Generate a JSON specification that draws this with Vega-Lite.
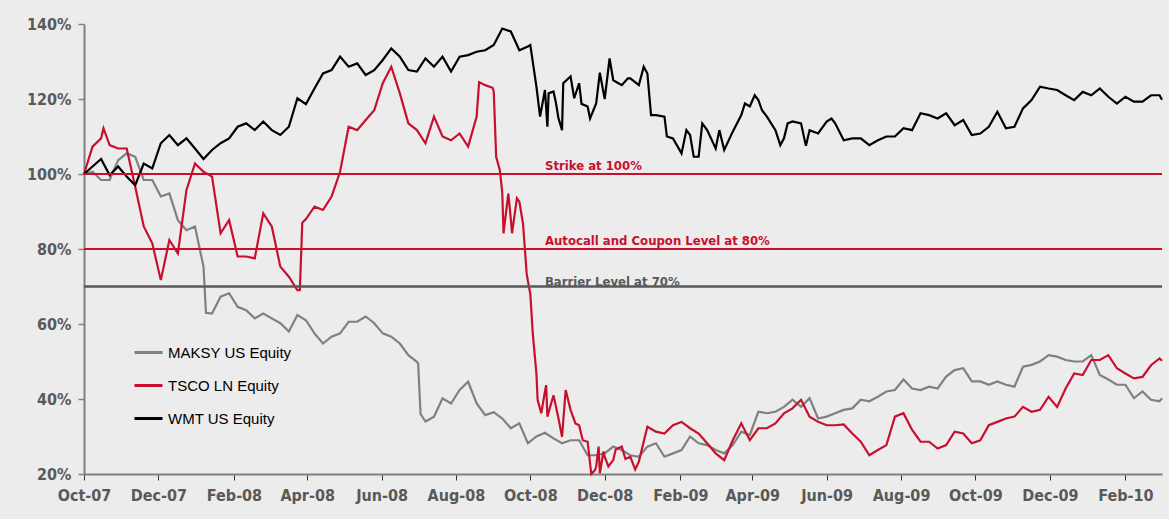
{
  "$schema": "https://vega.github.io/schema/vega-lite/v6.json",
  "width": 1078,
  "height": 450,
  "autosize": {"type": "none"},
  "padding": {"left": 84, "top": 24, "right": 7, "bottom": 45},
  "background": "#ececec",
  "config": {"view": {"stroke": null}, "font": "DejaVu Sans Condensed", "mark": {"invalid": "filter"}},
  "datasets": {
    "series": [
      {"d":"2007-10-01","m":100,"t":100,"w":100},
      {"d":"2007-10-08","m":100.6,"t":107.3,"w":102},
      {"d":"2007-10-15","m":98.4,"t":109.5,"w":104},
      {"d":"2007-10-17","t":112.2},
      {"d":"2007-10-22","m":98.4,"t":107.7,"w":99.7},
      {"d":"2007-10-29","m":103.7,"t":106.8,"w":102},
      {"d":"2007-11-05","m":105.5,"t":106.8,"w":99.3},
      {"d":"2007-11-12","m":104.6,"t":96.6,"w":97},
      {"d":"2007-11-19","m":98.4,"t":86,"w":102.8},
      {"d":"2007-11-26","m":98.4,"t":81.5,"w":101.5},
      {"d":"2007-12-03","m":94,"t":71.7,"w":108.2},
      {"d":"2007-12-10","m":94.8,"t":82.4,"w":110.4},
      {"d":"2007-12-17","m":87.7,"t":78.8,"w":107.7},
      {"d":"2007-12-24","m":85,"t":95.7,"w":109.5},
      {"d":"2007-12-31","m":86,"t":102.8,"w":106.8},
      {"d":"2008-01-07","m":75.3,"t":100.6,"w":104},
      {"d":"2008-01-09","m":63},
      {"d":"2008-01-14","m":62.8,"t":99.3,"w":106.4},
      {"d":"2008-01-21","m":67.3,"t":84.2,"w":108.2},
      {"d":"2008-01-28","m":68.2,"t":87.7,"w":109.5},
      {"d":"2008-02-04","m":64.6,"t":78,"w":112.6},
      {"d":"2008-02-11","m":63.7,"t":78,"w":113.5},
      {"d":"2008-02-18","m":61.5,"t":77.5,"w":111.7},
      {"d":"2008-02-25","m":62.8,"t":89.5,"w":114},
      {"d":"2008-03-03","m":61.5,"t":86,"w":111.7},
      {"d":"2008-03-10","m":60.2,"t":75.3,"w":110.4},
      {"d":"2008-03-17","m":58,"t":72.6,"w":112.6},
      {"d":"2008-03-24","m":62.4,"t":69,"w":120.2},
      {"d":"2008-03-26","t":69},
      {"d":"2008-03-28","t":87},
      {"d":"2008-03-31","m":61,"t":88,"w":118.6},
      {"d":"2008-04-07","m":57.5,"t":91.3,"w":122.8},
      {"d":"2008-04-14","m":54.8,"t":90.4,"w":126.8},
      {"d":"2008-04-21","m":56.6,"t":94,"w":127.7},
      {"d":"2008-04-28","m":57.5,"t":100.6,"w":131.3},
      {"d":"2008-05-05","m":60.6,"t":112.6,"w":128.6},
      {"d":"2008-05-12","m":60.6,"t":111.7,"w":129.5},
      {"d":"2008-05-19","m":62,"t":114.4,"w":126.4},
      {"d":"2008-05-26","m":60.2,"t":117,"w":127.7},
      {"d":"2008-06-02","m":57.5,"t":124.2,"w":130.4},
      {"d":"2008-06-09","m":56.6,"t":128.6,"w":133.5},
      {"d":"2008-06-16","m":54.8,"t":121.5,"w":131.3},
      {"d":"2008-06-23","m":51.7,"t":113.5,"w":127.7},
      {"d":"2008-06-30","m":49.9,"t":111.7,"w":127.3},
      {"d":"2008-07-01","m":49.5},
      {"d":"2008-07-03","m":36},
      {"d":"2008-07-07","m":34,"t":108.2,"w":130.8},
      {"d":"2008-07-14","m":35.3,"t":115.3,"w":128.6},
      {"d":"2008-07-21","m":40.2,"t":110,"w":131.3},
      {"d":"2008-07-28","m":38.8,"t":109,"w":127.3},
      {"d":"2008-08-04","m":42.4,"t":110.8,"w":131.3},
      {"d":"2008-08-11","m":44.6,"t":107.3,"w":131.7},
      {"d":"2008-08-18","m":38.8,"t":115.3,"w":132.6},
      {"d":"2008-08-20","t":124.5},
      {"d":"2008-08-25","m":35.7,"t":123.7,"w":133},
      {"d":"2008-08-31","t":123},
      {"d":"2008-09-01","m":36.5,"t":122,"w":134.4},
      {"d":"2008-09-03","t":104.6},
      {"d":"2008-09-06","t":101},
      {"d":"2008-09-08","m":34.8,"t":95,"w":138.8},
      {"d":"2008-09-09","t":84.2},
      {"d":"2008-09-13","t":94.8},
      {"d":"2008-09-15","m":32.2,"t":88,"w":138},
      {"d":"2008-09-16","t":84.2},
      {"d":"2008-09-20","t":93.5},
      {"d":"2008-09-22","m":33.5,"t":92.6,"w":133},
      {"d":"2008-09-25","t":86.8},
      {"d":"2008-09-28","t":73.5},
      {"d":"2008-09-29","m":28.2,"t":71.5,"w":134},
      {"d":"2008-10-01","t":68,"w":134.4},
      {"d":"2008-10-03","t":57.5},
      {"d":"2008-10-06","m":30,"t":46.8,"w":123.3},
      {"d":"2008-10-07","t":39.7},
      {"d":"2008-10-09","w":115.3},
      {"d":"2008-10-10","t":36.2},
      {"d":"2008-10-13","m":31,"t":42,"w":122.4},
      {"d":"2008-10-14","t":43.7},
      {"d":"2008-10-15","t":35.3,"w":112.6},
      {"d":"2008-10-16","w":121.5},
      {"d":"2008-10-20","m":29.5,"t":41,"w":122},
      {"d":"2008-10-22","w":119},
      {"d":"2008-10-24","t":35,"w":115},
      {"d":"2008-10-27","m":28.2,"t":29.9,"w":111.7},
      {"d":"2008-10-28","w":124.2},
      {"d":"2008-10-30","t":42.4},
      {"d":"2008-11-03","m":29,"t":37.1,"w":126},
      {"d":"2008-11-06","w":120.2},
      {"d":"2008-11-07","t":33.5},
      {"d":"2008-11-10","m":29,"t":33,"w":124.2},
      {"d":"2008-11-12","w":118.7},
      {"d":"2008-11-13","t":29},
      {"d":"2008-11-17","m":25,"t":28.6,"w":118},
      {"d":"2008-11-19","w":114.8},
      {"d":"2008-11-20","t":20},
      {"d":"2008-11-23","t":21},
      {"d":"2008-11-24","m":25,"t":22,"w":118.8},
      {"d":"2008-11-26","t":27.3},
      {"d":"2008-11-27","t":20.2,"w":127},
      {"d":"2008-11-30","t":26},
      {"d":"2008-12-01","m":25.5,"t":24.6,"w":120},
      {"d":"2008-12-04","t":22},
      {"d":"2008-12-05","w":130.8},
      {"d":"2008-12-08","m":27.3,"t":23.7,"w":125},
      {"d":"2008-12-10","t":26.5},
      {"d":"2008-12-15","m":26.4,"t":27.3,"w":123.7},
      {"d":"2008-12-18","t":24},
      {"d":"2008-12-20","w":125.5},
      {"d":"2008-12-22","m":25,"t":24.6,"w":125.5},
      {"d":"2008-12-26","t":21.2},
      {"d":"2008-12-29","m":24.6,"t":23.3,"w":123.7},
      {"d":"2009-01-02","w":128.6},
      {"d":"2009-01-05","m":27.3,"t":32.6,"w":126.8},
      {"d":"2009-01-08","w":115.7},
      {"d":"2009-01-12","m":28.2,"t":31.3,"w":115.7},
      {"d":"2009-01-19","m":24.6,"t":30.8,"w":115.3},
      {"d":"2009-01-21","w":110},
      {"d":"2009-01-26","m":25.5,"t":33,"w":109.5},
      {"d":"2009-02-02","m":26.4,"t":33.9,"w":105.5},
      {"d":"2009-02-06","w":111.7},
      {"d":"2009-02-09","m":30,"t":32.2,"w":110.4},
      {"d":"2009-02-12","w":104.6},
      {"d":"2009-02-16","m":28.2,"t":30.8,"w":104.6},
      {"d":"2009-02-19","w":113.5},
      {"d":"2009-02-23","m":27.7,"t":28.2,"w":111.7},
      {"d":"2009-03-02","m":26.4,"t":25.5,"w":106.8},
      {"d":"2009-03-05","w":111.7},
      {"d":"2009-03-09","m":25.5,"t":23.7,"w":106.4},
      {"d":"2009-03-16","m":27.7,"t":29,"w":111.3},
      {"d":"2009-03-23","m":31.3,"t":33.5,"w":115.7},
      {"d":"2009-03-26","w":118.8},
      {"d":"2009-03-30","m":30.4,"t":29,"w":118},
      {"d":"2009-04-03","w":121},
      {"d":"2009-04-06","m":36.6,"t":32.2,"w":119.7},
      {"d":"2009-04-09","w":117},
      {"d":"2009-04-13","m":36.2,"t":32.2,"w":115.3},
      {"d":"2009-04-20","m":36.6,"t":33.5,"w":111.7},
      {"d":"2009-04-24","w":107.7},
      {"d":"2009-04-27","m":37.9,"t":36.2,"w":109.5},
      {"d":"2009-04-30","w":113.5},
      {"d":"2009-05-04","m":39.8,"t":37.5,"w":114},
      {"d":"2009-05-11","m":37.9,"t":39.8,"w":113.5},
      {"d":"2009-05-15","w":107.5},
      {"d":"2009-05-18","m":40.2,"t":35.3,"w":111.7},
      {"d":"2009-05-25","m":34.8,"t":33.9,"w":110.8},
      {"d":"2009-06-01","m":35.3,"t":33,"w":114},
      {"d":"2009-06-05","w":114.8},
      {"d":"2009-06-08","m":36.2,"t":33,"w":113.5},
      {"d":"2009-06-15","m":37.1,"t":33.2,"w":109},
      {"d":"2009-06-22","m":37.5,"t":30.8,"w":109.5},
      {"d":"2009-06-29","m":39.8,"t":28.6,"w":109.5},
      {"d":"2009-07-06","m":39.4,"t":25,"w":107.7},
      {"d":"2009-07-13","m":40.6,"t":26.4,"w":109},
      {"d":"2009-07-20","m":42,"t":27.7,"w":110},
      {"d":"2009-07-27","m":42.4,"t":35.3,"w":110},
      {"d":"2009-08-03","m":45.2,"t":36.2,"w":112.2},
      {"d":"2009-08-10","m":42.8,"t":31.8,"w":111.7},
      {"d":"2009-08-17","m":42.4,"t":28.6,"w":116.2},
      {"d":"2009-08-24","m":43.3,"t":28.6,"w":115.7},
      {"d":"2009-08-31","m":42.8,"t":26.8,"w":114.8},
      {"d":"2009-09-07","m":46,"t":27.7,"w":116.2},
      {"d":"2009-09-14","m":47.7,"t":31.3,"w":113},
      {"d":"2009-09-21","m":48.2,"t":30.8,"w":114.4},
      {"d":"2009-09-28","m":44.7,"t":28.2,"w":110.4},
      {"d":"2009-10-05","m":44.7,"t":29,"w":110.8},
      {"d":"2009-10-12","m":43.8,"t":33,"w":112.6},
      {"d":"2009-10-19","m":44.7,"t":33.9,"w":116.6},
      {"d":"2009-10-26","m":43.8,"t":34.8,"w":112.2},
      {"d":"2009-11-02","m":43.3,"t":35.3,"w":112.6},
      {"d":"2009-11-09","m":48.6,"t":37.9,"w":117.5},
      {"d":"2009-11-16","m":49.1,"t":36.6,"w":119.7},
      {"d":"2009-11-23","m":50,"t":37.1,"w":123.3},
      {"d":"2009-11-30","m":51.7,"t":40.6,"w":122.8},
      {"d":"2009-12-07","m":51.3,"t":37.9,"w":122.4},
      {"d":"2009-12-14","m":50.4,"t":42.8,"w":121},
      {"d":"2009-12-21","m":50,"t":46.8,"w":119.7},
      {"d":"2009-12-28","m":50,"t":46.4,"w":121.9},
      {"d":"2010-01-04","m":51.7,"t":50.4,"w":121},
      {"d":"2010-01-11","m":46.4,"t":50.4,"w":122.8},
      {"d":"2010-01-18","m":45.2,"t":51.7,"w":120.6},
      {"d":"2010-01-25","m":43.8,"t":48.2,"w":118.8},
      {"d":"2010-02-01","m":43.8,"t":46.8,"w":120.6},
      {"d":"2010-02-08","m":40.2,"t":45.5,"w":119.3},
      {"d":"2010-02-15","m":42,"t":45.9,"w":119.3},
      {"d":"2010-02-22","m":39.8,"t":49,"w":121},
      {"d":"2010-03-01","m":39.4,"t":50.8,"w":121},
      {"d":"2010-03-03","m":40.2,"t":50.2,"w":119.8}
    ]
  },
  "layer": [
    {
      "data": {"name": "series"},
      "transform": [
        {"fold": ["m", "t", "w"], "as": ["key", "value"]},
        {"filter": "isValid(datum.value)"}
      ],
      "mark": {"type": "line", "strokeWidth": 2.2, "interpolate": "linear"},
      "encoding": {
        "x": {
          "field": "d", "type": "temporal",
          "scale": {"type": "utc", "domain": [{"year": 2007, "month": 10, "date": 1, "utc": true}, {"year": 2010, "month": 3, "date": 3, "utc": true}]},
          "axis": {
            "title": null, "grid": false, "format": "%b-%y",
            "values": [
              {"year": 2007, "month": 10, "date": 1, "utc": true},
              {"year": 2007, "month": 12, "date": 1, "utc": true},
              {"year": 2008, "month": 2, "date": 1, "utc": true},
              {"year": 2008, "month": 4, "date": 1, "utc": true},
              {"year": 2008, "month": 6, "date": 1, "utc": true},
              {"year": 2008, "month": 8, "date": 1, "utc": true},
              {"year": 2008, "month": 10, "date": 1, "utc": true},
              {"year": 2008, "month": 12, "date": 1, "utc": true},
              {"year": 2009, "month": 2, "date": 1, "utc": true},
              {"year": 2009, "month": 4, "date": 1, "utc": true},
              {"year": 2009, "month": 6, "date": 1, "utc": true},
              {"year": 2009, "month": 8, "date": 1, "utc": true},
              {"year": 2009, "month": 10, "date": 1, "utc": true},
              {"year": 2009, "month": 12, "date": 1, "utc": true},
              {"year": 2010, "month": 2, "date": 1, "utc": true}
            ],
            "domainColor": "#808080", "domainWidth": 2,
            "tickColor": "#333333", "tickSize": 6, "tickWidth": 1,
            "labelFont": "DejaVu Sans Condensed", "labelFontSize": 16, "labelFontWeight": "bold",
            "labelColor": "#595959", "labelPadding": 7, "labelFlush": false, "labelOverlap": false
          }
        },
        "y": {
          "field": "value", "type": "quantitative",
          "scale": {"domain": [20, 140], "nice": false, "zero": false},
          "axis": {
            "title": null, "grid": false, "values": [20, 40, 60, 80, 100, 120, 140],
            "labelExpr": "datum.value + '%'",
            "domainColor": "#808080", "domainWidth": 2,
            "tickColor": "#808080", "tickSize": 6, "tickWidth": 1.5,
            "labelFont": "DejaVu Sans Condensed", "labelFontSize": 16, "labelFontWeight": "bold",
            "labelColor": "#595959", "labelPadding": 7
          }
        },
        "color": {
          "field": "key", "type": "nominal",
          "scale": {"domain": ["m", "t", "w"], "range": ["#808080", "#c8102e", "#000000"]},
          "legend": {
            "title": null, "orient": "none", "legendX": 49, "legendY": 313, "padding": 0,
            "symbolType": "stroke", "symbolSize": 784, "symbolStrokeWidth": 3,
            "labelFont": "Liberation Sans", "labelFontSize": 15, "labelColor": "#000000",
            "labelOffset": 4, "rowPadding": 9,
            "labelExpr": "datum.label == 'm' ? 'MAKSY US Equity' : datum.label == 't' ? 'TSCO LN Equity' : 'WMT US Equity'"
          }
        }
      }
    },
    {
      "data": {"values": [{"value": 100}, {"value": 80}]},
      "mark": {"type": "rule", "color": "#c8102e", "strokeWidth": 2},
      "encoding": {"y": {"field": "value", "type": "quantitative"}}
    },
    {
      "data": {"values": [{"value": 70}]},
      "mark": {"type": "rule", "color": "#595959", "strokeWidth": 2.5},
      "encoding": {"y": {"field": "value", "type": "quantitative"}}
    },
    {
      "data": {"values": [
        {"d": "2008-10-13", "value": 100, "label": "Strike at 100%"},
        {"d": "2008-10-13", "value": 80, "label": "Autocall and Coupon Level at 80%"}
      ]},
      "mark": {"type": "text", "align": "left", "baseline": "alphabetic", "dy": -4, "color": "#c8102e", "font": "DejaVu Sans Condensed", "fontSize": 13, "fontWeight": "bold"},
      "encoding": {
        "x": {"field": "d", "type": "temporal"},
        "y": {"field": "value", "type": "quantitative"},
        "text": {"field": "label"}
      }
    },
    {
      "data": {"values": [
        {"d": "2008-10-13", "value": 70, "label": "Barrier Level at 70%"}
      ]},
      "mark": {"type": "text", "align": "left", "baseline": "alphabetic", "dy": -1, "color": "#595959", "font": "DejaVu Sans Condensed", "fontSize": 13, "fontWeight": "bold"},
      "encoding": {
        "x": {"field": "d", "type": "temporal"},
        "y": {"field": "value", "type": "quantitative"},
        "text": {"field": "label"}
      }
    }
  ]
}
